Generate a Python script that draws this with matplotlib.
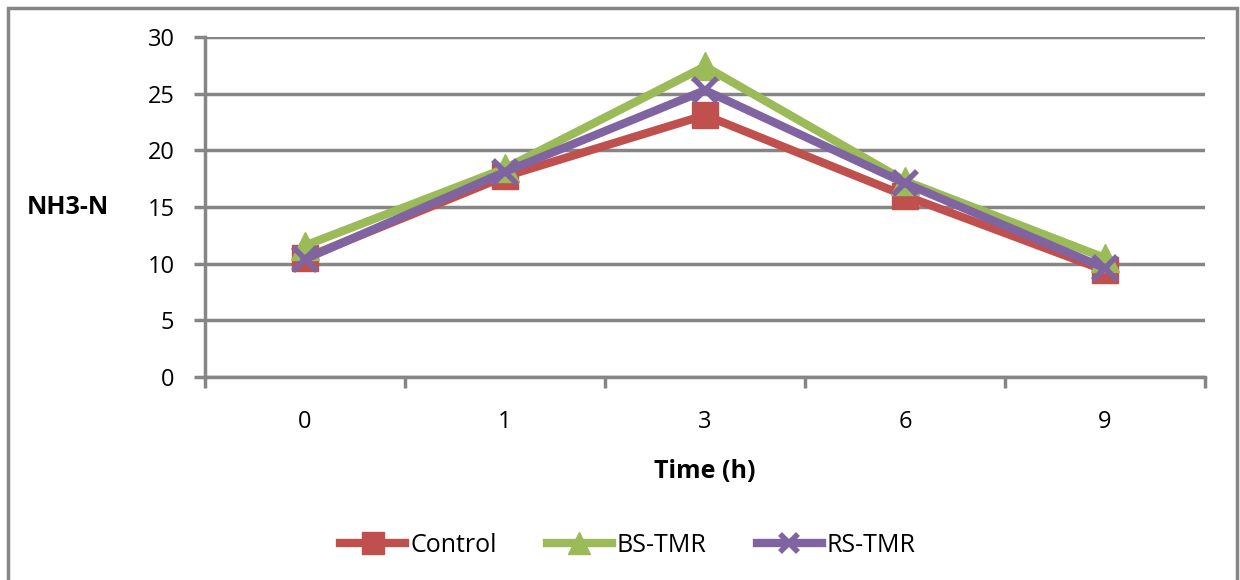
import numpy as np
import matplotlib
matplotlib.use("Agg")
import matplotlib.pyplot as plt
from matplotlib.patches import Rectangle

times = ["0", "1", "3", "6", "9"]
control = [10.5, 17.7, 23.1, 16.0, 9.4]
bs_tmr = [11.6, 18.4, 27.4, 17.3, 10.5]
rs_tmr = [10.4, 18.1, 25.3, 17.1, 9.6]

plt.rcParams['font.family'] = ['Open Sans', 'DejaVu Sans']

fig = plt.figure(figsize=(12.4, 5.8), dpi=100)
ax = fig.add_axes([205/1240, 1-377/580, 1000/1240, 340/580])

x = np.arange(len(times))
ax.plot(x, control, color='#c0504d', lw=6, marker='s', ms=19, label='Control', zorder=3)
ax.plot(x, bs_tmr, color='#9bbb59', lw=6, marker='^', ms=20, label='BS-TMR', zorder=4)
ax.plot(x, rs_tmr, color='#8064a2', lw=6, marker='x', ms=17, mew=4, label='RS-TMR', zorder=5)

ax.set_xlim(-0.5, len(times) - 0.5)
ax.set_ylim(0, 30)
ax.set_yticks(range(0, 31, 5))
ax.set_xticks(x)
ax.set_xticklabels(times)
ax.set_xticks(np.arange(-0.5, len(times), 1), minor=True)
ax.tick_params(axis='x', which='major', length=0, pad=24, labelsize=17)
ax.tick_params(axis='x', which='minor', length=8, width=2.5, color='#868686')
ax.tick_params(axis='y', length=8, width=2.5, color='#868686', labelsize=17, pad=14)
ax.grid(axis='y', color='#868686', lw=2.5)
ax.set_axisbelow(True)
for s in ['top', 'right']:
    ax.spines[s].set_visible(False)
for s in ['left', 'bottom']:
    ax.spines[s].set_color('#868686')
    ax.spines[s].set_linewidth(2.5)

ax.set_xlabel('Time (h)', fontsize=18, fontweight='bold', labelpad=18)
fig.text(68/1240, 1-207/580, 'NH3-N', fontsize=18, fontweight='bold', ha='center', va='center')

fig.legend(loc='center', bbox_to_anchor=(628/1240, 1-545/580), ncol=3, frameon=False,
           fontsize=18, handlelength=2.6, columnspacing=2.0, handletextpad=0.2,
           markerscale=0.8)

fig.patches.append(Rectangle((8/1240, -0.01), 1229/1240, 1-8/580 + 0.01, transform=fig.transFigure,
                             fill=False, edgecolor='#868686', lw=2.5))

fig.savefig('out.png', dpi=100)
